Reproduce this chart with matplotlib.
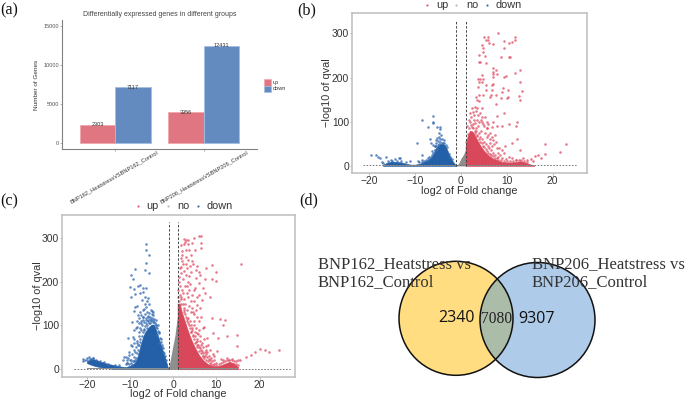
import matplotlib
matplotlib.use("Agg")
import matplotlib.pyplot as plt
from matplotlib.patches import Circle

W, H = 685, 399
plt.rcParams['font.family'] = ['Liberation Sans', 'DejaVu Sans']

# (a) bars
groups = ["BNP162_HeatstressVSBNP162_Control", "BNP206_HeatstressVSBNP206_Control"]
up_counts = [2303, 3956]
down_counts = [7117, 12431]

# (b) volcano, solid areas read as envelopes
b_down_x = [-17, -16, -15, -14, -13, -12, -11, -10, -9, -8, -7, -6.5, -6, -5.5, -5, -4.5, -4, -3.5, -3, -2.5, -2, -1.5, -1]
b_down_top = [3, 8, 10, 9, 8, 5, 3, 3, 5, 10, 15, 20, 28, 40, 46, 50, 50, 47, 36, 24, 14, 6, 1]
b_up_x = [1, 1.5, 2, 2.5, 3, 3.5, 4, 4.5, 5, 5.5, 6, 7, 8, 9, 10, 11, 12, 13, 14, 15, 16]
b_up_top = [45, 70, 80, 78, 70, 60, 50, 42, 35, 29, 24, 17, 13, 9, 8, 8, 9, 11, 8, 4, 1]
b_no_x = [-1, -0.5, 0, 0.5, 1]
b_no_top = [1, 6, 17, 25, 36]

# (b) single points
b_up_pts_x = [8.05, 5, 5.8, 5.4, 5.8, 6.1, 7, 4.6, 4.75, 4.9, 4, 5.2, 4, 4.2, 5.5, 8.85, 10.45, 10.75, 9.5, 9.5,
              10.45, 11.1, 11.85, 11.85, 7, 7, 7.75, 7.9, 7, 7, 4.6, 9.3, 9.8, 11.85, 13, 12.8, 3.65, 4.2, 3.95, 4.5,
              4.75, 3.65, 5.4, 6.7, 7.1, 6.7, 5.4, 9.15, 10.2, 9, 13.3, 3.95, 4.9, 3.3, 6.6, 7.6, 8.8, 10.2, 12.7,
              3.4, 4, 3, 4.5, 2.7, 3.8, 4.5, 3, 5.6, 7, 7.8, 9.3, 6.4, 10, 13, 7.7, 12.2, 12, 10.5, 8.9, 7.8, 6.7, 5.6,
              11.1, 12.2, 13, 9.7, 8.9, 9.3, 16.2, 16.9, 18.3, 23, 21.7, 18.4, 17.5, 7.1, 6.4, 7.5,
              2, 2.3, 2.6, 2.9, 3.2, 3.5, 3.8, 4.1, 4.4, 4.7, 5, 5.3, 5.6, 3, 3.4, 3.9, 4.2, 4.6, 5, 5.4, 5.8, 6.2,
              6.6, 7, 7.4, 7.8, 8.2, 8.6, 6, 6.4, 6.8, 9, 9.8, 10.5, 11.2, 12, 13.5, 14.5, 15.2, 15.8,
              1.2, 1.5, 1.8, 2.1, 2.4, 2.7, 3, 3.3, 3.6, 3.9, 4.2, 4.5, 4.8, 5.1, 5.4, 5.7, 6, 6.3, 6.6, 7, 7.4, 7.8,
              8.2, 8.7, 9.3, 10, 10.7, 11.4, 12, 12.6, 13.2, 13.8, 14.4, 1.4, 1.7, 2, 2.4, 2.8, 3.2, 3.6, 4, 4.4, 4.8,
              5.2, 5.6, 6, 6.4, 6.8, 7.2, 7.6, 8, 8.4]
b_up_pts_y = [300, 292, 292, 285, 285, 278, 275, 273, 266, 258, 252, 249, 236, 235, 232, 246, 246, 246, 266, 282,
              278, 280, 292, 284, 221, 213, 217, 208, 208, 201, 206, 202, 204, 211, 217, 191, 197, 197, 191, 189,
              196, 179, 183, 183, 185, 172, 172, 176, 171, 168, 170, 161, 161, 155, 161, 161, 153, 157, 159,
              149, 146, 134, 130, 123, 115, 100, 97, 100, 100, 112, 119, 157, 153, 149, 140, 99, 91, 95, 91, 91, 88, 85,
              53, 61, 36, 44, 36, 29, 23, 25, 50, 50, 32, 27, 18, 59, 52, 70,
              100, 110, 95, 115, 85, 105, 90, 120, 80, 110, 90, 75, 65, 75, 70, 75, 65, 60, 55, 50, 45, 40,
              35, 30, 25, 40, 20, 25, 70, 75, 45, 18, 15, 20, 18, 14, 18, 14, 16, 12,
              55, 72, 85, 92, 88, 85, 80, 78, 68, 62, 55, 52, 45, 42, 38, 33, 30, 26, 25, 22, 18, 18,
              14, 13, 12, 11, 11, 12, 13, 14, 14, 12, 10, 90, 105, 120, 130, 105, 125, 130, 100, 105, 95,
              110, 85, 95, 60, 65, 50, 55, 30, 40]
b_down_pts_x = [-6.1, -8.6, -6.2, -6.2, -7.3, -5.2, -4.5, -4.5, -4.8, -6.8, -5.2, -5.5, -9.7, -6.6, -6, -5.7, -5.2,
                -8.6, -19.6, -18.6, -18.2, -17.6, -16.4, -17.2, -15.2, -13.4, -11.2, -9.4, -8.6, -7.2, -6.4, -5.7,
                -13.5, -14.5,
                -3, -3.3, -3.6, -3.9, -4.2, -4.5, -4.8, -5.1, -5.4, -5.7, -6, -6.3, -6.6, -6.9, -7.2, -7.6, -8, -8.5,
                -2.6, -2.3, -2, -9.2, -12, -13, -14, -15, -16, -17, -4.6, -4.2, -3.8, -5, -5.4, -4.4, -4.9, -5.6]
b_down_pts_y = [113, 104, 100, 96, 87, 87, 88, 83, 74, 60, 63, 59, 53, 52, 48, 44, 38,
                25, 25, 24, 21, 19, 21, 10, 14, 17, 11, 12, 13, 17, 33, 36,
                18, 15,
                42, 48, 52, 52, 52, 54, 50, 48, 44, 36, 30, 24, 20, 20, 14, 14, 11, 8,
                28, 20, 16, 8, 8, 11, 12, 12, 11, 6, 60, 62, 58, 56, 52, 70, 66, 46]

# (c) volcano, solid areas
c_down_x = [-20, -19, -18, -17, -16, -15, -14, -13, -12, -11, -10, -9, -8.5, -8, -7.5, -7, -6.5, -6, -5.5, -5, -4.5, -4, -3.5, -3, -2.5, -2, -1.5, -1.2]
c_down_top = [18, 24, 22, 18, 15, 12, 10, 8, 6, 5, 8, 14, 22, 38, 58, 74, 85, 92, 98, 102, 102, 90, 74, 60, 44, 30, 13, 2]
c_down_low = [14, 10, 7, 5, 3, 2, 1, 1, 1, 1, 1, 1, 1, 1, 1, 1, 1, 1, 1, 1, 1, 1, 1, 1, 1, 1, 1, 1]
c_up_x = [1, 1.5, 2, 2.5, 3, 3.5, 4, 4.5, 5, 6, 7, 8, 9, 10, 11, 12, 13, 14, 15]
c_up_top = [150, 150, 130, 115, 100, 85, 72, 60, 50, 32, 20, 12, 8, 7, 9, 13, 17, 14, 5]
c_no_x = [-1.3, -1, -0.2, 0.4, 0.85, 1]
c_no_top = [0, 5, 48, 78, 113, 120]

# (c) single points
c_up_pts_x = [15.8, 9, 10, 7.5, 5.5, 5.9, 6.5, 6.5, 6.5, 4.8, 4.4, 2.5, 3, 3.5, 1.7, 2.85, 3.6, 5, 4, 2.1, 2.85, 4.4, 2.1,
              1.85, 3.2, 5.2, 5.9, 6.3, 1.85, 3.6, 5.2, 7.3, 8.9, 9.8, 5.9, 6.9, 7.3, 5.9, 8.4, 4.8, 3.2, 2.1, 8.9, 10.8,
              12.1, 11.5, 9.2, 10.3, 12.5, 14.8, 14.7, 10.2, 11, 16.8, 17.9, 18.9, 20, 21.2, 22.2, 24.5, 7.6, 7.1, 5.5,
              7.9, 6.3, 5.5, 6.7,
              1.4, 1.6, 2.3, 2.6, 2.9, 3.4, 3.8, 4.2, 4.6, 1.5, 1.9, 2.2, 2.5, 2.8, 3.1, 3.5, 3.9, 4.3, 4.7, 5.1, 5.5,
              2.4, 2.8, 3.2, 3.6, 4, 4.4, 4.8, 5.2, 5.6, 6, 6.4, 6.8, 3.1, 3.5, 3.9, 4.3, 4.7, 5.1, 5.5, 5.9, 6.3, 6.7,
              7.1, 7.5, 7.9, 8.3, 8.7, 9.1, 6, 6.5, 7, 5.5, 5, 4.5, 4, 9.5, 10, 11.5, 12.5, 13.5, 14.5, 15, 15.5, 13, 8, 8.6, 9.4,
              1.2, 1.4, 1.7, 1.9, 2.2, 2.4, 2.6, 2.8, 3, 3.2, 3.4, 3.6, 3.8, 4, 4.2, 4.4, 4.6, 4.8, 5, 5.2, 5.4, 5.6,
              5.8, 6, 6.2, 6.4, 6.6, 6.8, 7, 7.2, 7.4, 7.6, 7.8, 8, 8.2, 8.4, 8.6, 8.8, 9, 9.2, 9.5, 10, 10.5, 11, 11.5,
              12, 12.5, 13, 13.5, 14, 14.5, 15, 1.2, 1.3, 1.5, 1.7, 2, 2.4, 2.8, 3.3, 2.2, 3, 3.3, 3.7, 4.1, 4.5, 4.9,
              5.3, 5.7, 6.1, 6.5, 6.9, 7.3, 7.7]
c_up_pts_y = [241, 238, 221, 232, 236, 304, 303, 289, 276, 299, 288, 297, 295, 294, 284, 272, 272, 272, 261, 261, 257, 246, 246,
              234, 230, 227, 223, 215, 219, 212, 208, 205, 205, 202, 196, 185, 173, 170, 166, 181, 189, 181, 116, 115,
              113, 100, 82, 72, 77, 78, 54, 42, 23, 29, 32, 39, 47, 44, 40, 43, 52, 97, 82,
              71, 139, 147, 158,
              200, 190, 205, 225, 240, 250, 235, 222, 240, 170, 165, 175, 160, 190, 175, 165, 195, 170, 155, 185, 165,
              140, 150, 135, 145, 130, 140, 125, 135, 120, 110, 120, 95, 115, 105, 110, 95, 100, 85, 70, 90, 75, 60,
              70, 45, 40, 30, 25, 35, 50, 45, 30, 55, 60, 75, 85, 20, 15, 20, 25, 24, 18, 20, 22, 22, 55, 45, 30,
              165, 155, 160, 150, 150, 130, 135, 125, 120, 110, 118, 100, 95, 100, 85, 90, 78, 70, 75, 62, 65, 50,
              55, 42, 48, 38, 42, 30, 38, 25, 30, 22, 27, 18, 24, 15, 20, 12, 18, 10, 13, 10, 12, 14, 17,
              19, 20, 22, 20, 19, 12, 9, 180, 210, 230, 255, 270, 285, 290, 285, 240, 215, 200, 180, 155, 130, 110,
              95, 80, 65, 55, 50, 40, 35]
c_down_pts_x = [-6.4, -6.4, -5.6, -6.3, -8.8, -6.6, -5.6, -9.7, -9.3, -10.1, -7.7, -8.2, -9, -7.1, -6.3, -7, -7.7, -8.8,
                -9.9, -6.6, -7.2, -5.9, -5.7, -8.3, -8.8, -9, -6.2, -6.8, -4.9, -4.7, -8.1, -7.4, -8, -7, -9.5, -5.9,
                -9, -10.5, -9.3, -9.1, -9.5, -11.4, -10.3, -10.7, -9.9, -8.5, -8, -4.1, -3.7, -3.3,
                -7.5, -7, -6.5, -6, -5.5, -5, -4.5, -4, -3.5, -8, -7.7, -7.2, -6.8, -6.3, -5.8, -5.2, -4.7, -4.2, -3.8,
                -3.2, -2.9, -8.5, -9, -9.5, -9.2, -8.8, -8.2, -7.8, -10.5, -10, -10.8, -9.7, -11, -9.3, -8.9, -6.7,
                -6.1, -5.3, -2.7, -2.3, -20.5, -21, -21, -20, -19.5, -19, -18.5,
                -9.5, -9, -8.7, -8.4, -8.1, -7.9, -7.6, -7.3, -7.1, -6.8, -6.6, -6.3, -6.1, -5.8, -5.6, -5.4, -5.1, -4.9,
                -4.6, -4.4, -4.1, -3.9, -3.6, -3.4, -3.1, -2.8, -2.6, -2.4, -2.1, -1.9, -1.7, -8.6, -8.3, -8, -7.5, -7.4,
                -6.9, -6.4, -5.9, -5.6, -5.2, -4.8, -6.9, -6.5, -6, -7.8, -8.3, -8.7, -9.2, -9.7, -10.2, -11, -11.7,
                -12.5, -13.5, -15, -16, -17, -17.8, -18.6, -19.3, -20, -10.6, -10.2]
c_down_pts_y = [286, 272, 260, 242, 229, 227, 219, 215, 205, 187, 192, 189, 183, 185, 186, 177, 175, 172,
                166, 166, 158, 162, 150, 145, 142, 132, 142, 137, 132, 124, 124, 124, 116, 120, 107, 120,
                90, 71, 73, 60, 53, 29, 32, 21, 21, 97, 105, 97, 78, 60,
                110, 120, 125, 130, 120, 125, 115, 112, 100, 85, 95, 100, 108, 112, 110, 113, 108, 105, 95,
                82, 70, 60, 45, 35, 28, 40, 55, 70, 25, 20, 15, 14, 12, 18, 22, 90,
                100, 105, 50, 40, 22, 18, 24, 25, 27, 24, 26,
                10, 18, 25, 38, 45, 55, 62, 75, 85, 92, 98, 105, 95, 112, 105, 115, 110, 118,
                112, 108, 100, 102, 88, 85, 72, 62, 55, 48, 36, 30, 22, 50, 65, 75, 90, 105,
                112, 118, 122, 128, 135, 130, 135, 150, 155, 130, 110, 95, 70, 55, 40, 28, 20,
                10, 10, 13, 16, 19, 22, 26, 24, 20, 14, 12]

# (d) venn
venn_counts = ["2340", "7080", "9307"]
venn_left = "BNP162_Heatstress vs\nBNP162_Control"
venn_right = "BNP206_Heatstress vs\nBNP206_Control"

RED = "#D9475A"
BLUE = "#2460A7"
GRAY = "#8E8E8E"

fig = plt.figure(figsize=(W / 100, H / 100), dpi=100)


def box(left, top, right, bottom):
    # pixel box to figure fractions
    return [left / W, 1 - bottom / H, (right - left) / W, (bottom - top) / H]


def volcano(rect, xlim, ylim, no, down, up, down_pts, up_pts, hline_end):
    ax = fig.add_axes(rect)
    ax.fill_between(no[0], 0, no[1], color=GRAY, lw=0)
    ax.fill_between(down[0], down[2], down[1], color=BLUE, lw=0.4)
    ax.fill_between(up[0], 0, up[1], color=RED, lw=0.4)
    ax.scatter(down_pts[0], down_pts[1], s=3.4, color="#3A70B4", alpha=0.8, lw=0)
    ax.scatter(up_pts[0], up_pts[1], s=3.4, color="#E2596D", alpha=0.8, lw=0)
    ax.fill_between([down[0][0], up[0][-1]], 0, 2.2, color=GRAY, lw=0)
    ax.plot(hline_end, [1.3, 1.3], color="#777777", lw=0.7, ls=(0, (1.6, 1.6)))
    for v in [-1, 1]:
        ax.plot([v, v], [0, ylim[1] - 16], color="#444444", lw=0.7, ls=(0, (2.5, 1.8)))
    ax.set_xlim(xlim)
    ax.set_ylim(ylim)
    ax.set_xticks([-20, -10, 0, 10, 20], ["\u221220", "\u221210", "0", "10", "20"])
    ax.set_yticks([0, 100, 200, 300])
    ax.tick_params(labelsize=7.4, length=1.2, width=0.5, color="#999999", labelcolor="#333333", pad=1)
    for s in ax.spines.values():
        s.set_color("#BDBDBD")
        s.set_linewidth(1.1)
    ax.set_xlabel("log2 of Fold change", fontsize=7.8, color="#333333", labelpad=-0.3)
    ax.set_ylabel("\u2212log10 of qval", fontsize=7.8, color="#333333", labelpad=-0.5)
    return ax


# (a)
ax = fig.add_axes(box(62, 20, 257, 149))
x1 = [i - 0.2 for i in range(2)]
x2 = [i + 0.2 for i in range(2)]
ax.bar(x1, up_counts, width=0.4, color="#E07681", edgecolor="#F2A6AE", lw=0.6)
ax.bar(x2, down_counts, width=0.4, color="#648BBF", edgecolor="#A3BFE6", lw=0.6)
for a, b, c, d in zip(x1, x2, up_counts, down_counts):
    ax.text(a, c, str(c), fontsize=4, ha="center", va="center", color="#333333")
    ax.text(b, d, str(d), fontsize=4, ha="center", va="center", color="#333333")
ax.set_xlim(-0.6, 1.6)
ax.set_ylim(-767, 15710)
ax.set_yticks([0, 5000, 10000, 15000])
ax.set_xticks([0, 1])
ax.set_xticklabels([])
ax.tick_params(labelsize=4, length=1.2, width=0.4, color="#777777", labelcolor="#555555", pad=1)
ax.spines[["top", "right"]].set_visible(False)
ax.spines[["left", "bottom"]].set_color("#808080")
ax.spines[["left", "bottom"]].set_linewidth(0.8)
ax.set_ylabel("Number of Genes", fontsize=4.6, color="#333333", labelpad=3)
ax.set_title("Differentially expressed genes in different groups", fontsize=5, color="#444444", pad=3)

# (b)
volcano(box(352, 13, 587.3, 173), (-23.8, 27.6), (-16, 346),
        (b_no_x, b_no_top), (b_down_x, b_down_top, 0), (b_up_x, b_up_top),
        (b_down_pts_x, b_down_pts_y), (b_up_pts_x, b_up_pts_y), [-21.5, 25.4])

# (c)
volcano(box(62.3, 215, 295, 376.7), (-25.7, 28.2), (-17, 352),
        (c_no_x, c_no_top), (c_down_x, c_down_top, c_down_low), (c_up_x, c_up_top),
        (c_down_pts_x, c_down_pts_y), (c_up_pts_x, c_up_pts_y), [-23, 27])

# overlay in pixels for legends, labels and the venn
over = fig.add_axes([0, 0, 1, 1], zorder=5)
over.set_xlim(0, W)
over.set_ylim(H, 0)
over.axis("off")
over.patch.set_alpha(0)

# rotated group labels of (a)
for lab, px in zip(groups, [158, 248]):
    over.text(px, 152, lab, fontsize=4.1, rotation=30, rotation_mode="anchor", ha="right", va="center", color="#333333")

# legend of (a)
for y, c, e, lab in [(82.3, "#E07681", "#F2A6AE", "up"), (89, "#648BBF", "#A3BFE6", "down")]:
    over.add_patch(plt.Rectangle((264, y - 3.2), 6.6, 6.4, fc=c, ec=e, lw=0.5))
    over.text(273, y, lab, fontsize=4, va="center", color="#333333")

# legends of (b) and (c)
for y, spots, labs in [(4.5, [426.7, 456, 487], [436, 466, 496]), (205.7, [137.7, 167.7, 198], [146.7, 177, 207])]:
    for sx, tx, c, lab in zip(spots, labs, ["#E2596D", "#BBBBBB", "#3A70B4"], ["up", "no", "down"]):
        over.scatter([sx], [y], s=2.5, color=c, lw=0)
        over.text(tx, y, lab, fontsize=7.8, va="center", color="#333333")

# panel letters
for lab, px, py in [("(a)", 0, 10), ("(b)", 297, 10), ("(c)", 0, 201), ("(d)", 299, 200)]:
    over.text(px, py, lab, fontsize=11.6, family="Liberation Serif", va="center", color="#111111")

# venn
yellow = Circle((456, 318.3), 57, fc="#FFDD80", ec="none")
blue = Circle((537.5, 320), 57.5, fc="#AECBE9", ec="none")
over.add_patch(yellow)
over.add_patch(blue)
both = Circle((456, 318.3), 57, fc="#ABBCA8", ec="none")
over.add_patch(both)
both.set_clip_path(Circle((537.5, 320), 57.5, transform=over.transData))
over.add_patch(Circle((456, 318.3), 57, fc="none", ec="#111111", lw=1.1))
over.add_patch(Circle((537.5, 320), 57.5, fc="none", ec="#111111", lw=1.1))
over.text(456.7, 318, venn_counts[0], fontsize=11.5, family="Open Sans", ha="center", va="center", color="#111111")
over.text(497, 319, venn_counts[1], fontsize=11.2, family="Liberation Serif", ha="center", va="center", color="#222222")
over.text(536.7, 319, venn_counts[2], fontsize=11.5, family="Open Sans", ha="center", va="center", color="#111111")
for txt, px in [(venn_left, 318), (venn_right, 531.7)]:
    over.text(px, 273, txt, fontsize=12, family="Liberation Serif", va="center", ha="left", color="#333333", linespacing=1.2)

fig.savefig("out.png", dpi=100)
